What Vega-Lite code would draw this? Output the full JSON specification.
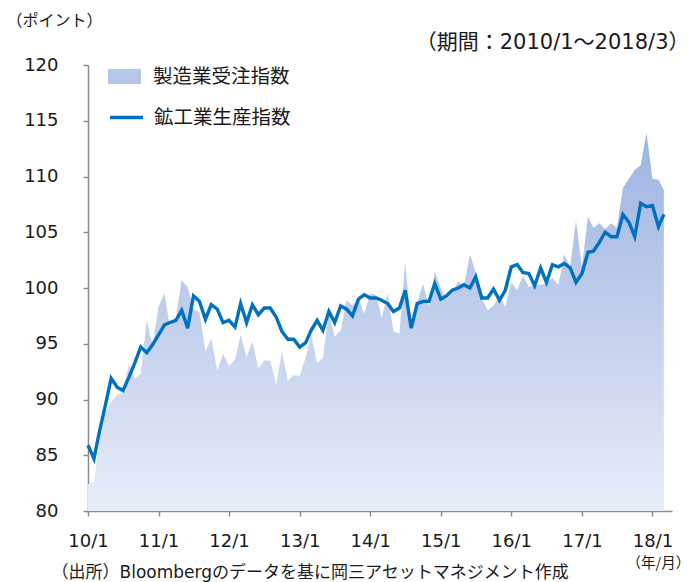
{
  "$schema": "https://vega.github.io/schema/vega-lite/v6.json",
  "width": 584,
  "height": 446,
  "autosize": {"type": "none"},
  "padding": {"left": 88, "top": 65, "right": 18, "bottom": 71},
  "background": "white",
  "config": {
    "font": "DejaVu Sans, Noto Sans CJK JP",
    "view": {"stroke": null},
    "axis": {"grid": false, "labelColor": "#1a1a1a", "titleColor": "#1a1a1a", "titleFontWeight": "normal", "labelFont": "DejaVu Sans", "titleFont": "DejaVu Sans, Noto Sans CJK JP"},
    "axisY": {"labelPadding": 25},
    "legend": {"padding": 0, "labelColor": "#1a1a1a", "labelFont": "Noto Sans CJK JP"}
  },
  "resolve": {"axis": {"x": "independent", "y": "independent"}},
  "data": {
    "values": [
      {"date": "2010-01-01", "orders": 82.4, "production": 85.9},
      {"date": "2010-02-01", "orders": 82.6, "production": 84.7},
      {"date": "2010-03-01", "orders": 86.3, "production": 87.1},
      {"date": "2010-04-01", "orders": 88.8, "production": 89.5},
      {"date": "2010-05-01", "orders": 89.8, "production": 91.9},
      {"date": "2010-06-01", "orders": 90.4, "production": 91.1},
      {"date": "2010-07-01", "orders": 90.6, "production": 90.8},
      {"date": "2010-08-01", "orders": 93.2, "production": 92.0},
      {"date": "2010-09-01", "orders": 91.9, "production": 93.3},
      {"date": "2010-10-01", "orders": 92.3, "production": 94.7},
      {"date": "2010-11-01", "orders": 97.1, "production": 94.2},
      {"date": "2010-12-01", "orders": 94.9, "production": 94.9},
      {"date": "2011-01-01", "orders": 98.3, "production": 95.8},
      {"date": "2011-02-01", "orders": 99.5, "production": 96.7},
      {"date": "2011-03-01", "orders": 96.5, "production": 96.9},
      {"date": "2011-04-01", "orders": 97.3, "production": 97.1},
      {"date": "2011-05-01", "orders": 100.7, "production": 98.0},
      {"date": "2011-06-01", "orders": 100.1, "production": 96.4},
      {"date": "2011-07-01", "orders": 98.1, "production": 99.3},
      {"date": "2011-08-01", "orders": 97.8, "production": 98.8},
      {"date": "2011-09-01", "orders": 94.3, "production": 97.2},
      {"date": "2011-10-01", "orders": 95.5, "production": 98.5},
      {"date": "2011-11-01", "orders": 92.6, "production": 98.1},
      {"date": "2011-12-01", "orders": 94.1, "production": 96.9},
      {"date": "2012-01-01", "orders": 93.0, "production": 97.1},
      {"date": "2012-02-01", "orders": 93.6, "production": 96.5},
      {"date": "2012-03-01", "orders": 95.8, "production": 98.6},
      {"date": "2012-04-01", "orders": 93.8, "production": 96.9},
      {"date": "2012-05-01", "orders": 95.2, "production": 98.5},
      {"date": "2012-06-01", "orders": 92.8, "production": 97.6},
      {"date": "2012-07-01", "orders": 93.5, "production": 98.2},
      {"date": "2012-08-01", "orders": 93.5, "production": 98.2},
      {"date": "2012-09-01", "orders": 91.3, "production": 97.4},
      {"date": "2012-10-01", "orders": 94.3, "production": 96.1},
      {"date": "2012-11-01", "orders": 91.7, "production": 95.4},
      {"date": "2012-12-01", "orders": 92.2, "production": 95.4},
      {"date": "2013-01-01", "orders": 92.1, "production": 94.7},
      {"date": "2013-02-01", "orders": 93.8, "production": 95.1},
      {"date": "2013-03-01", "orders": 95.8, "production": 96.2},
      {"date": "2013-04-01", "orders": 93.3, "production": 97.1},
      {"date": "2013-05-01", "orders": 93.7, "production": 96.2},
      {"date": "2013-06-01", "orders": 97.8, "production": 97.9},
      {"date": "2013-07-01", "orders": 95.6, "production": 96.9},
      {"date": "2013-08-01", "orders": 96.2, "production": 98.4},
      {"date": "2013-09-01", "orders": 98.9, "production": 98.1},
      {"date": "2013-10-01", "orders": 98.4, "production": 97.5},
      {"date": "2013-11-01", "orders": 99.1, "production": 99.0},
      {"date": "2013-12-01", "orders": 97.7, "production": 99.4},
      {"date": "2014-01-01", "orders": 99.5, "production": 99.1},
      {"date": "2014-02-01", "orders": 99.4, "production": 99.1},
      {"date": "2014-03-01", "orders": 97.3, "production": 98.9},
      {"date": "2014-04-01", "orders": 99.5, "production": 98.6},
      {"date": "2014-05-01", "orders": 96.1, "production": 97.9},
      {"date": "2014-06-01", "orders": 95.9, "production": 98.2},
      {"date": "2014-07-01", "orders": 102.2, "production": 99.8},
      {"date": "2014-08-01", "orders": 96.6, "production": 96.4},
      {"date": "2014-09-01", "orders": 98.7, "production": 98.6},
      {"date": "2014-10-01", "orders": 100.4, "production": 98.8},
      {"date": "2014-11-01", "orders": 98.3, "production": 98.8},
      {"date": "2014-12-01", "orders": 101.5, "production": 100.4},
      {"date": "2015-01-01", "orders": 100.0, "production": 99.0},
      {"date": "2015-02-01", "orders": 99.0, "production": 99.3},
      {"date": "2015-03-01", "orders": 99.5, "production": 99.8},
      {"date": "2015-04-01", "orders": 100.6, "production": 100.0},
      {"date": "2015-05-01", "orders": 100.2, "production": 100.3},
      {"date": "2015-06-01", "orders": 103.0, "production": 100.0},
      {"date": "2015-07-01", "orders": 101.4, "production": 101.0},
      {"date": "2015-08-01", "orders": 99.1, "production": 99.1},
      {"date": "2015-09-01", "orders": 98.0, "production": 99.1},
      {"date": "2015-10-01", "orders": 98.4, "production": 99.9},
      {"date": "2015-11-01", "orders": 99.3, "production": 98.9},
      {"date": "2015-12-01", "orders": 98.3, "production": 99.8},
      {"date": "2016-01-01", "orders": 100.5, "production": 101.9},
      {"date": "2016-02-01", "orders": 99.8, "production": 102.1},
      {"date": "2016-03-01", "orders": 101.1, "production": 101.4},
      {"date": "2016-04-01", "orders": 100.1, "production": 101.3},
      {"date": "2016-05-01", "orders": 100.3, "production": 100.2},
      {"date": "2016-06-01", "orders": 100.3, "production": 101.8},
      {"date": "2016-07-01", "orders": 100.4, "production": 100.5},
      {"date": "2016-08-01", "orders": 100.9, "production": 102.1},
      {"date": "2016-09-01", "orders": 100.3, "production": 101.9},
      {"date": "2016-10-01", "orders": 103.0, "production": 102.2},
      {"date": "2016-11-01", "orders": 101.9, "production": 101.8},
      {"date": "2016-12-01", "orders": 106.0, "production": 100.5},
      {"date": "2017-01-01", "orders": 101.9, "production": 101.3},
      {"date": "2017-02-01", "orders": 106.4, "production": 103.2},
      {"date": "2017-03-01", "orders": 105.4, "production": 103.3},
      {"date": "2017-04-01", "orders": 105.8, "production": 104.1},
      {"date": "2017-05-01", "orders": 105.3, "production": 105.0},
      {"date": "2017-06-01", "orders": 105.8, "production": 104.6},
      {"date": "2017-07-01", "orders": 105.4, "production": 104.6},
      {"date": "2017-08-01", "orders": 109.0, "production": 106.6},
      {"date": "2017-09-01", "orders": 109.8, "production": 105.9},
      {"date": "2017-10-01", "orders": 110.6, "production": 104.6},
      {"date": "2017-11-01", "orders": 111.0, "production": 107.6},
      {"date": "2017-12-01", "orders": 113.9, "production": 107.3},
      {"date": "2018-01-01", "orders": 109.8, "production": 107.4},
      {"date": "2018-02-01", "orders": 109.7, "production": 105.5},
      {"date": "2018-03-01", "orders": 108.8, "production": 106.6}
    ]
  },
  "layer": [
    {
      "mark": {
        "type": "area",
        "interpolate": "linear",
        "fill": {
          "gradient": "linear",
          "x1": 0, "y1": 0, "x2": 0, "y2": 1,
          "stops": [
            {"offset": 0, "color": "#9cb3e2"},
            {"offset": 1, "color": "#e8edf8"}
          ]
        }
      },
      "encoding": {
        "x": {
          "field": "date",
          "type": "temporal",
          "scale": {
            "type": "utc",
            "domain": [
              {"year": 2010, "month": 1, "date": 1, "utc": true},
              {"year": 2018, "month": 4, "date": 12, "utc": true}
            ]
          },
          "axis": {
            "orient": "bottom",
            "format": "%y/%-m",
            "tickCount": {"interval": "year", "step": 1},
            "domainColor": "#8c8c8c",
            "domainWidth": 1.5,
            "tickColor": "#8c8c8c",
            "tickWidth": 1.5,
            "tickSize": 5,
            "labelFontSize": 18,
            "labelPadding": 16,
            "labelFlush": false,
            "labelOverlap": false,
            "title": "（出所）Bloombergのデータを基に岡三アセットマネジメント作成",
            "titleFontSize": 17,
            "titleAlign": "left",
            "titleBaseline": "middle",
            "titleX": -37,
            "titleY": 61
          }
        },
        "y": {
          "field": "orders",
          "type": "quantitative",
          "scale": {"domain": [80, 120], "zero": false, "nice": false},
          "axis": {
            "orient": "left",
            "values": [80, 85, 90, 95, 100, 105, 110, 115, 120],
            "domainColor": "#8c8c8c",
            "domainWidth": 1.5,
            "tickColor": "#8c8c8c",
            "tickWidth": 1.5,
            "tickSize": 5,
            "labelFontSize": 18,
            "title": "（ポイント）",
            "titleFont": "Noto Sans CJK JP",
            "titleFontSize": 16,
            "titleAngle": 0,
            "titleAlign": "left",
            "titleBaseline": "middle",
            "titleX": -82,
            "titleY": -45
          }
        },
        "y2": {"datum": 80}
      }
    },
    {
      "mark": {"type": "point", "opacity": 0, "filled": true},
      "encoding": {
        "x": {"field": "date", "type": "temporal", "axis": null},
        "y": {"field": "orders", "type": "quantitative", "axis": null},
        "fill": {
          "datum": "製造業受注指数",
          "type": "nominal",
          "scale": {"range": ["#b4c6ea"]},
          "legend": {
            "title": null,
            "orient": "none",
            "legendX": 20,
            "legendY": -5,
            "symbolType": "M-1,-0.45H1V0.45H-1Z",
            "symbolSize": 1089,
            "symbolOpacity": 1,
            "symbolStrokeWidth": 0,
            "labelFontSize": 19.5,
            "labelOffset": 12
          }
        }
      }
    },
    {
      "mark": {"type": "line", "interpolate": "linear", "strokeWidth": 3.4},
      "encoding": {
        "x": {
          "field": "date",
          "type": "temporal",
          "axis": {
            "orient": "top",
            "domain": false,
            "ticks": false,
            "labels": false,
            "title": "（年/月）",
            "titleFont": "Noto Sans CJK JP",
            "titleFontSize": 14.5,
            "titleAlign": "left",
            "titleBaseline": "middle",
            "titleX": 538,
            "titleY": 498
          }
        },
        "y": {
          "field": "production",
          "type": "quantitative",
          "axis": {
            "orient": "right",
            "domain": false,
            "ticks": false,
            "labels": false,
            "title": "（期間：2010/1～2018/3）",
            "titleFontSize": 21,
            "titleAngle": 0,
            "titleAlign": "right",
            "titleBaseline": "middle",
            "titleX": 17,
            "titleY": -23
          }
        },
        "stroke": {
          "datum": "鉱工業生産指数",
          "type": "nominal",
          "scale": {"range": ["#0070c0"]},
          "legend": {
            "title": null,
            "orient": "none",
            "legendX": 20,
            "legendY": 34,
            "symbolType": "stroke",
            "symbolSize": 1089,
            "symbolStrokeWidth": 3.5,
            "labelFontSize": 19.5,
            "labelOffset": 9
          }
        }
      }
    }
  ]
}
